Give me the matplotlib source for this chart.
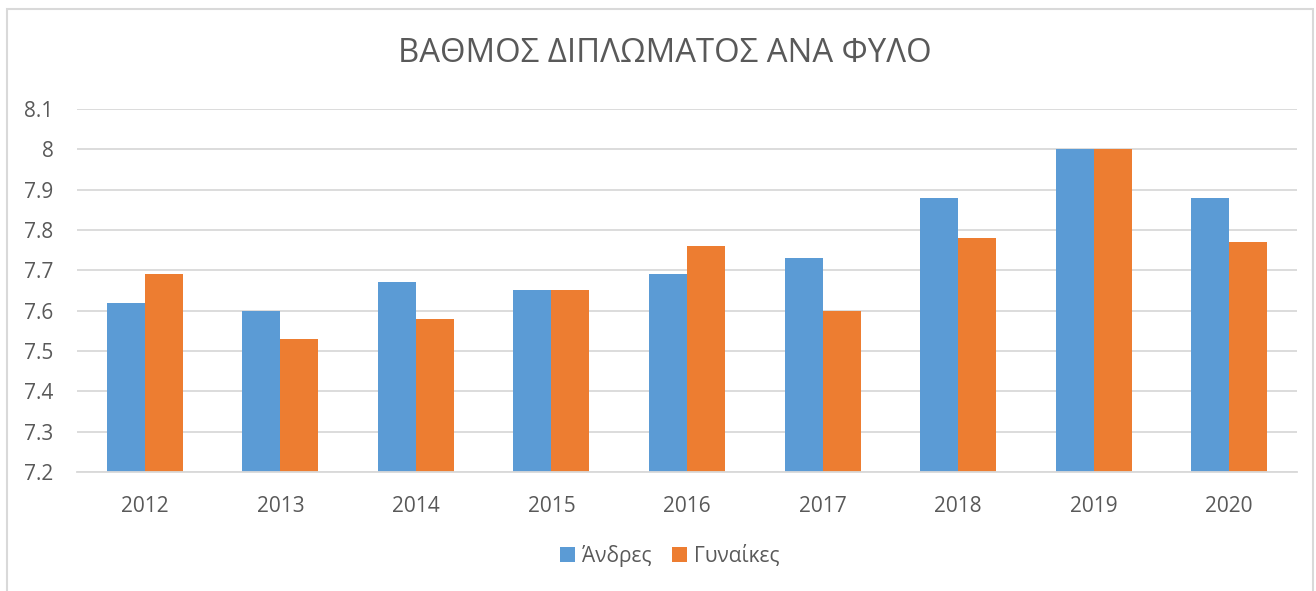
import numpy as np
import matplotlib
matplotlib.use("Agg")
import matplotlib.pyplot as plt
from matplotlib.patches import Rectangle

plt.rcParams['font.family'] = ['Open Sans', 'DejaVu Sans']

## data
years = ["2012", "2013", "2014", "2015", "2016", "2017", "2018", "2019", "2020"]
men = [7.62, 7.60, 7.67, 7.65, 7.69, 7.73, 7.88, 8.00, 7.88]
women = [7.69, 7.53, 7.58, 7.65, 7.76, 7.60, 7.78, 8.00, 7.77]
yticks = [7.2, 7.3, 7.4, 7.5, 7.6, 7.7, 7.8, 7.9, 8.0, 8.1]
ytick_labels = ["7.2", "7.3", "7.4", "7.5", "7.6", "7.7", "7.8", "7.9", "8", "8.1"]

blue = "#5B9BD5"
orange = "#ED7D31"
txt = "#595959"
grid = "#D9D9D9"

fig = plt.figure(figsize=(13.16, 5.91), dpi=100)
# outer chart border (bottom edge falls outside the image)
fig.patches.append(Rectangle((7 / 1316, -0.05), 1306 / 1316, 1.05 - 9 / 591,
                             transform=fig.transFigure, fill=False,
                             edgecolor=grid, linewidth=1.5))
ax = fig.add_axes([77 / 1316, 119 / 591, 1220 / 1316, 363 / 591])

x = np.arange(len(years))
w = 0.28
ax.bar(x - w / 2, np.array(men) - 7.2, w, bottom=7.2, color=blue, label="Άνδρες")
ax.bar(x + w / 2, np.array(women) - 7.2, w, bottom=7.2, color=orange, label="Γυναίκες")

ax.set_xlim(-0.5, len(years) - 0.5)
ax.set_ylim(7.2, 8.1)
ax.set_yticks(yticks)
ax.set_yticklabels(ytick_labels)
ax.set_xticks(x)
ax.set_xticklabels(years)
ax.tick_params(axis="both", length=0, labelsize=15, colors=txt)
ax.tick_params(axis="y", pad=17)
ax.tick_params(axis="x", pad=17)

ax.yaxis.grid(True, color=grid, linewidth=1.3)
ax.set_axisbelow(True)
for s in ["top", "right", "left"]:
    ax.spines[s].set_visible(False)
ax.spines["bottom"].set_color(grid)
ax.spines["bottom"].set_linewidth(1.3)

fig.text(665 / 1316, 1 - 54 / 591, "ΒΑΘΜΟΣ ΔΙΠΛΩΜΑΤΟΣ ΑΝΑ ΦΥΛΟ", ha="center", va="center",
         fontsize=23.7, color=txt)

leg = fig.legend(loc="center", bbox_to_anchor=(670 / 1316, 1 - 556 / 591), ncol=2,
                 frameon=False, fontsize=15, handlelength=0.7, handleheight=0.7,
                 handletextpad=0.35, columnspacing=1.0)
for t in leg.get_texts():
    t.set_color(txt)

fig.savefig("out.png", dpi=100)
